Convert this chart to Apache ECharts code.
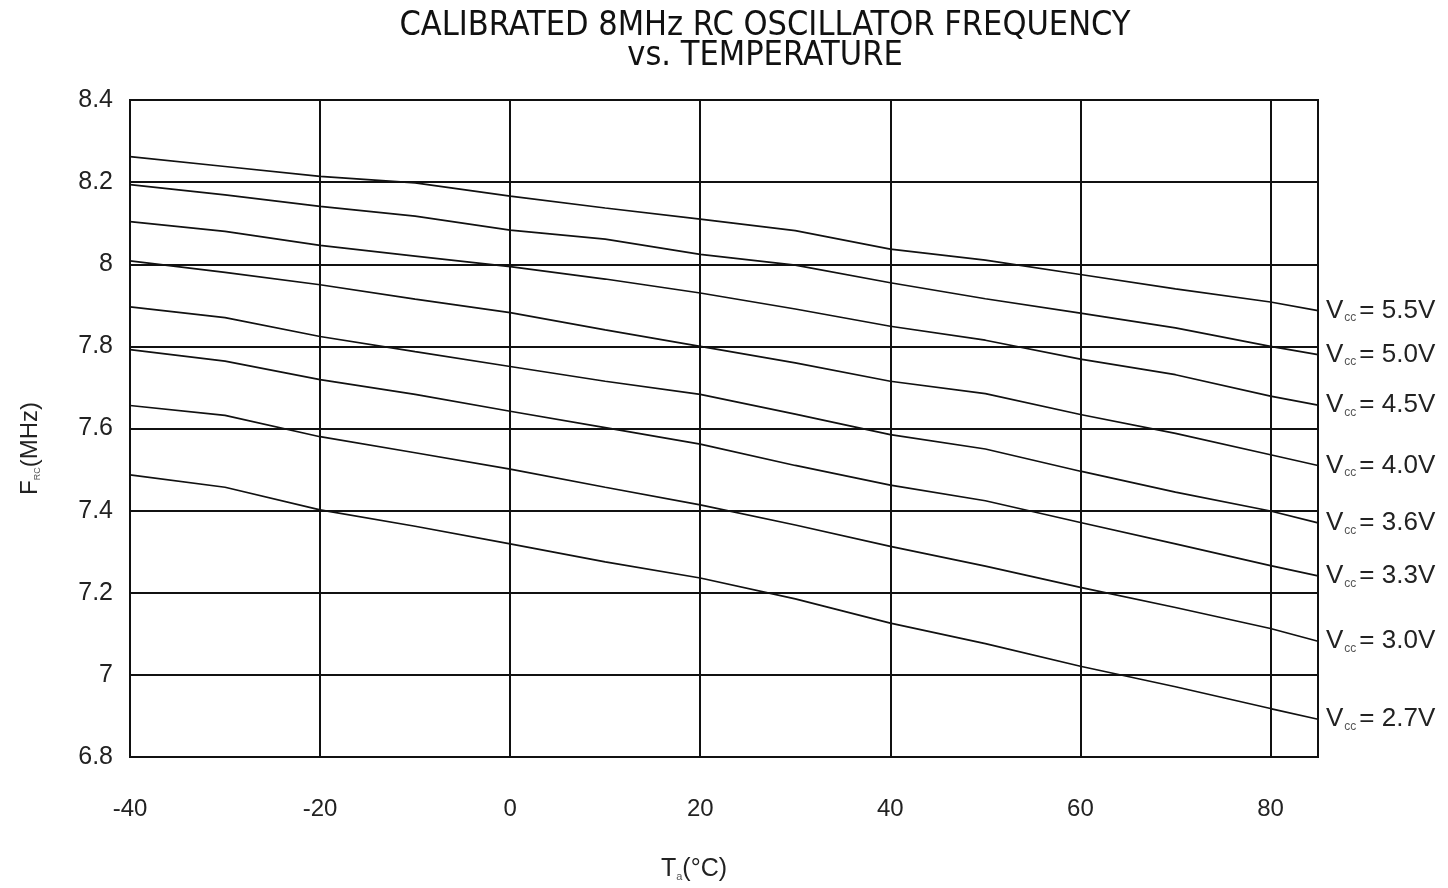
<!DOCTYPE html>
<html>
<head>
<meta charset="utf-8">
<script src="https://cdn.jsdelivr.net/npm/echarts@6/dist/echarts.min.js"></script>
<style>
html,body{margin:0;padding:0;background:#fff;}
#chart{width:1448px;height:888px;}
</style>
</head>
<body>
<div id="chart"></div>
<script>
// temperature points (°C)
var temps = [-40,-30,-20,-10,0,10,20,30,40,50,60,70,80,85];
// frequency (MHz) per supply voltage
var v55 = [8.262,8.238,8.214,8.198,8.166,8.137,8.110,8.082,8.037,8.010,7.975,7.940,7.908,7.887];
var v50 = [8.194,8.169,8.141,8.117,8.083,8.061,8.024,7.998,7.955,7.916,7.881,7.845,7.800,7.780];
var v45 = [8.104,8.080,8.046,8.020,7.994,7.964,7.930,7.891,7.849,7.815,7.769,7.731,7.679,7.657];
var v40 = [8.008,7.980,7.950,7.915,7.882,7.840,7.800,7.760,7.715,7.685,7.634,7.588,7.536,7.510];
var v36 = [7.896,7.870,7.824,7.787,7.751,7.715,7.683,7.635,7.585,7.550,7.496,7.445,7.399,7.370];
var v33 = [7.792,7.764,7.719,7.683,7.642,7.602,7.562,7.510,7.462,7.424,7.371,7.319,7.266,7.241];
var v30 = [7.656,7.632,7.580,7.541,7.501,7.457,7.414,7.365,7.313,7.265,7.213,7.164,7.113,7.082];
var v27 = [7.487,7.457,7.402,7.362,7.319,7.275,7.236,7.185,7.126,7.076,7.021,6.971,6.918,6.892];
var voltNames = ['5.5V','5.0V','4.5V','4.0V','3.6V','3.3V','3.0V','2.7V'];
var seriesVals = [v55,v50,v45,v40,v36,v33,v30,v27];

var FONT = '"Liberation Sans", Arial, sans-serif';

function pairs(vals){
	return temps.map(function(t,i){ return [t, vals[i]]; });
}

var series = seriesVals.map(function(vals,i){
	return {
		name:voltNames[i],
		type:'line',
		data:pairs(vals),
		symbol:'none',
		silent:true,
		lineStyle:{color:'#111',width:1.7},
		endLabel:{
			show:true,
			distance:8,
			formatter:function(){ return '{v|V}{s|cc}{v|= ' + voltNames[i] + '}'; },
			rich:{
				v:{fontFamily:FONT,fontSize:26,color:'#222'},
				s:{fontFamily:FONT,fontSize:12,color:'#555',verticalAlign:'bottom',padding:[15,3,0,1]}
			}
		}
	};
});

var myChart = echarts.init(document.getElementById('chart'),null,{renderer:'canvas'});
myChart.setOption({
	animation:false,
	backgroundColor:'#fff',
	title:{
		text:'CALIBRATED 8MHz RC OSCILLATOR FREQUENCY\nvs. TEMPERATURE',
		left:760,
		top:6,
		textAlign:'center',
		textStyle:{fontFamily:'"DejaVu Sans Condensed", sans-serif',fontSize:34,fontWeight:'normal',color:'#111',lineHeight:30}
	},
	grid:{left:130,right:130,top:100,bottom:131,show:true,borderColor:'#111',borderWidth:2},
	xAxis:{
		type:'value',
		min:-40,max:85,interval:20,
		name:'{t|T}{s|a}{t|(°C)}',
		nameLocation:'middle',
		nameGap:100,
		nameTextStyle:{padding:[0,60,0,0],rich:{
			t:{fontFamily:FONT,fontSize:25,color:'#222'},
			s:{fontFamily:FONT,fontSize:11,color:'#555',verticalAlign:'bottom',padding:[14,0,0,0]}
		}},
		axisLine:{show:false},
		axisTick:{show:false},
		axisLabel:{margin:40,showMaxLabel:false,fontFamily:FONT,fontSize:24,color:'#222'},
		splitLine:{show:true,lineStyle:{color:'#111',width:2}}
	},
	yAxis:{
		type:'value',
		min:6.8,max:8.4,interval:0.2,
		name:'{t|F}{s|RC}{t|(MHz)}',
		nameLocation:'middle',
		nameGap:88,
		nameRotate:90,
		nameTextStyle:{padding:[0,40,0,0],rich:{
			t:{fontFamily:FONT,fontSize:24,color:'#222'},
			s:{fontFamily:FONT,fontSize:9,color:'#555',verticalAlign:'bottom',padding:[12,0,0,0]}
		}},
		axisLine:{show:false},
		axisTick:{show:false},
		axisLabel:{margin:17,fontFamily:FONT,fontSize:25,color:'#222',formatter:function(v){ return String(Math.round(v*10)/10); }},
		splitLine:{show:true,lineStyle:{color:'#111',width:2}}
	},
	series:series
});
</script>
</body>
</html>
